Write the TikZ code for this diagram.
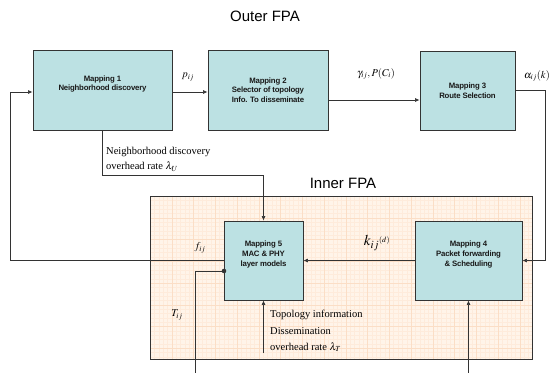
\documentclass[tikz,border=0pt]{standalone}
\usepackage{mathptmx}
\usepackage[no-math]{fontspec}
\setmainfont{Liberation Serif}
\newfontfamily\boxfont{Liberation Sans}
\newfontfamily\blockfont[LetterSpace=-2.5]{Liberation Sans}
\usetikzlibrary{arrows.meta}

\definecolor{boxteal}{HTML}{BCE1E3}
\definecolor{innerfill}{HTML}{FFF4E9}
\definecolor{gridminor}{HTML}{FEEBDB}
\definecolor{gridmajor}{HTML}{FBDEC6}
\definecolor{linecol}{HTML}{333333}

\begin{document}
\begin{tikzpicture}[x=1pt,y=-1pt,
  mapbox/.style={draw=linecol, line width=0.8pt, fill=boxteal, align=center,
    text=black!90, inner sep=1pt,
    font=\blockfont\bfseries\fontsize{7.8}{9.6}\selectfont},
  conn/.style={draw=linecol, line width=0.6pt},
  arr/.style={conn, -{Latex[length=4.5pt,width=3.8pt]}},
  lbl/.style={inner sep=0pt, font=\fontsize{10.5}{12}\selectfont},
  title/.style={inner sep=0pt, font=\boxfont\fontsize{15}{17}\selectfont}]

% canvas
\useasboundingbox (0,0) rectangle (559,372);

% inner FPA panel with graph-paper fill
\fill[innerfill] (150,196) rectangle (532,359);
\foreach \i in {0,...,87}
  \draw[gridminor, line width=0.3pt] ({150+\i*4.35},196) -- ++(0,163);
\foreach \j in {0,...,37}
  \draw[gridminor, line width=0.3pt] (150,{196+\j*4.35}) -- ++(382,0);
\foreach \i in {0,...,17}
  \draw[gridmajor, line width=0.35pt] ({150+\i*21.75},196) -- ++(0,163);
\foreach \j in {0,...,7}
  \draw[gridmajor, line width=0.35pt] (150,{196+\j*21.75}) -- ++(382,0);
\draw[linecol, line width=1pt] (150,196) rectangle (532,359);

% titles
\node[title] (outer) at (265,16) {Outer FPA};
\node[title] (inner) at (343,183) {Inner FPA};

% mapping blocks
\node[mapbox, minimum width=139pt, minimum height=80pt] (b1) at (102.5,90)
  {Mapping 1\\Neighborhood discovery\\[4pt]};
\node[mapbox, minimum width=120pt, minimum height=80pt] (b2) at (268,90)
  {Mapping 2\\Selector of topology\\Info. To disseminate};
\node[mapbox, minimum width=95pt, minimum height=79pt] (b3) at (467.5,90.5)
  {Mapping 3\\Route Selection};
\node[mapbox, minimum width=107pt, minimum height=79pt] (b4) at (468.5,260.5)
  {Mapping 4\\Packet forwarding\\\& Scheduling\\[4pt]};
\node[mapbox, minimum width=79pt, minimum height=79pt] (b5) at (263.5,260.5)
  {Mapping 5\\MAC \& PHY\\layer models\\[4pt]};

% helper levels
\coordinate (l92) at (0,92);
\coordinate (l100) at (0,100);
\coordinate (l175) at (0,175);
\coordinate (l353) at (0,353);
\coordinate (l372) at (0,373);
\coordinate (fb) at (10,0);
\coordinate (rr) at (545,0);
\coordinate (tl) at (195,0);
\coordinate (dot) at (224,271);

% forward chain of the outer loop
\draw[arr] (b1.east |- l92) -- (b2.west |- l92);
\draw[arr] (b2.east |- l100) -- (b3.west |- l100);
\draw[arr] (b3.east) -- (b3.east -| rr) -- (b4.east -| rr) -- (b4.east);
\draw[arr] (b4.west) -- (b5.east);

% overhead and feedback paths
\draw[arr] (b1.south) -- (b1.south |- l175) -- (b5.north |- l175) -- (b5.north);
\draw[arr] (b5.west) -- (b5.west -| fb) -- (fb |- l92) -- (b1.west |- l92);
\draw[conn] (dot) -- (tl |- dot) -- (tl |- l372);
\fill[linecol] (dot) circle (2.3);
\draw[arr] (b5.south |- l353) -- (b5.south);
\draw[arr] (b4.south |- l372) -- (b4.south);

% signal labels
\node[lbl] (p) at (188,77) {$p_{ij}$};
\node[lbl] (g) at (376,74) {$\gamma_{ij}, P(C_i)$};
\node[lbl] (a) at (537,76) {$\alpha_{ij}(k)$};
\node[lbl] (f) at (200,248) {$f_{ij}$};
\node[lbl] (k) at (377,243) {{\fontsize{15}{15}\selectfont$k_{ij}$}$^{(d)}$};
\node[lbl] (t) at (177,315) {$T_{ij}$};

\node[lbl, anchor=west] (nd1) at (106,151.5) {Neighborhood discovery};
\node[lbl, anchor=west] (nd2) at (106,166.5) {overhead rate $\lambda_U$};
\node[lbl, anchor=west] (td1) at (270,314.5) {Topology information};
\node[lbl, anchor=west] (td2) at (270,331) {Dissemination};
\node[lbl, anchor=west] (td3) at (270,347) {overhead rate $\lambda_T$};
\end{tikzpicture}
\end{document}
